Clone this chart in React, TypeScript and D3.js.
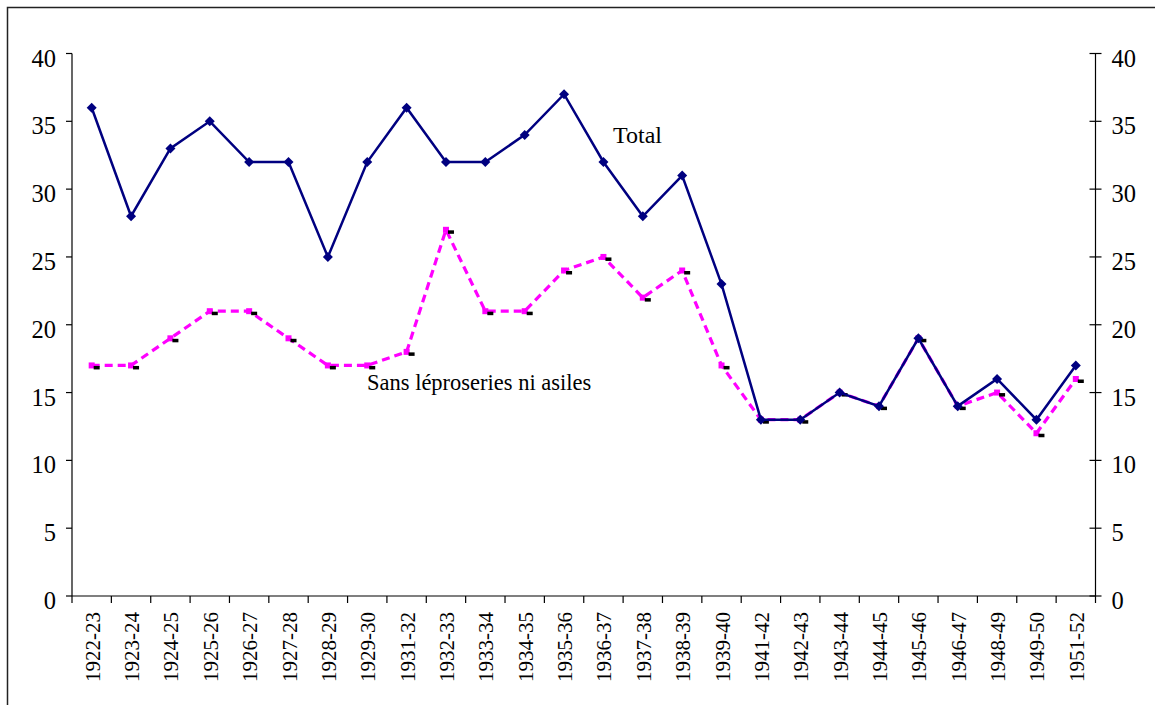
import React from "react";
import * as d3 from "d3";

const years = [
  "1922-23", "1923-24", "1924-25", "1925-26", "1926-27", "1927-28", "1928-29",
  "1929-30", "1931-32", "1932-33", "1933-34", "1934-35", "1935-36", "1936-37",
  "1937-38", "1938-39", "1939-40", "1941-42", "1942-43", "1943-44", "1944-45",
  "1945-46", "1946-47", "1948-49", "1949-50", "1951-52",
];

const total = [
  36, 28, 33, 35, 32, 32, 25, 32, 36, 32, 32, 34, 37, 32, 28, 31, 23, 13, 13,
  15, 14, 19, 14, 16, 13, 17,
];

const sansLeproseries = [
  17, 17, 19, 21, 21, 19, 17, 17, 18, 27, 21, 21, 24, 25, 22, 24, 17, 13, 13,
  15, 14, 19, 14, 15, 12, 16,
];

const yTicks = [0, 5, 10, 15, 20, 25, 30, 35, 40];

const serif = { fontFamily: "'Liberation Serif', 'DejaVu Serif', serif" };

function App() {
  const width = 1155;
  const height = 705;
  const left = 72;
  const right = 1095.5;
  const top = 53.5;
  const bottom = 596;

  const x = d3.scaleBand<string>().domain(years).range([left, right]);
  const y = d3.scaleLinear().domain([0, 40]).range([bottom, top]);
  const cx = (i: number) => (x(years[i]) as number) + x.bandwidth() / 2;

  // lines for both series
  const line = d3
    .line<number>()
    .x((d, i) => cx(i))
    .y((d) => y(d));

  // boundaries between categories for the x ticks
  const boundaries = d3.range(years.length + 1).map((i) => left + i * x.bandwidth());

  return (
    <svg
      width={width}
      height={height}
      style={{ position: "fixed", left: 0, top: 0, background: "#fff" }}
    >
      {/* frame */}
      <path d={`M7.5,${height + 5}V7.5H${width + 5}`} fill="none" stroke="#222" strokeWidth={1.5} />

      {/* left axis */}
      <line x1={left} x2={left} y1={top} y2={bottom} stroke="#000" strokeWidth={1.2} />
      {yTicks.map((t) => (
        <g key={"l" + t}>
          <line x1={left - 6} x2={left} y1={y(t)} y2={y(t)} stroke="#000" strokeWidth={1.2} />
          <text style={serif} x={left - 16} y={y(t) + 13} textAnchor="end" fontSize={24.5}>
            {t}
          </text>
        </g>
      ))}

      {/* right axis */}
      <line x1={right} x2={right} y1={top} y2={bottom} stroke="#000" strokeWidth={1.2} />
      {yTicks.map((t) => (
        <g key={"r" + t}>
          <line x1={right - 6} x2={right + 6} y1={y(t)} y2={y(t)} stroke="#000" strokeWidth={1.2} />
          <text style={serif} x={right + 16} y={y(t) + 13} textAnchor="start" fontSize={24.5}>
            {t}
          </text>
        </g>
      ))}

      {/* x axis */}
      <line x1={left} x2={right} y1={bottom} y2={bottom} stroke="#000" strokeWidth={1.2} />
      {boundaries.map((b, i) => (
        <line key={"xt" + i} x1={b} x2={b} y1={bottom} y2={bottom + 7} stroke="#000" strokeWidth={1.2} />
      ))}
      {years.map((yr, i) => (
        <text
          key={yr}
          style={serif}
          transform={`translate(${cx(i) + 8},${bottom + 16}) rotate(-90)`}
          textAnchor="end"
          fontSize={21}
        >
          {yr}
        </text>
      ))}

      {/* sans léproseries ni asiles */}
      <path
        d={line(sansLeproseries) || ""}
        fill="none"
        stroke="#ff00ff"
        strokeWidth={3.2}
        strokeDasharray="8,5"
      />
      {sansLeproseries.map((v, i) => (
        <g key={"s" + i}>
          <rect x={cx(i) - 3} y={y(v) - 3} width={6} height={6} fill="#ff00ff" />
          <rect x={cx(i) + 2} y={y(v) + 0.5} width={6} height={3.5} fill="#000" />
        </g>
      ))}

      {/* total */}
      <path d={line(total) || ""} fill="none" stroke="#000080" strokeWidth={2.5} />
      {total.map((v, i) => (
        <path
          key={"t" + i}
          d={`M${cx(i)},${y(v) - 5}L${cx(i) + 5},${y(v)}L${cx(i)},${y(v) + 5}L${cx(i) - 5},${y(v)}Z`}
          fill="#000080"
        />
      ))}

      <text style={serif} x={613} y={143} fontSize={24}>
        Total
      </text>
      <text style={serif} x={367} y={390} fontSize={22.5}>
        Sans léproseries ni asiles
      </text>
    </svg>
  );
}

export default App;
